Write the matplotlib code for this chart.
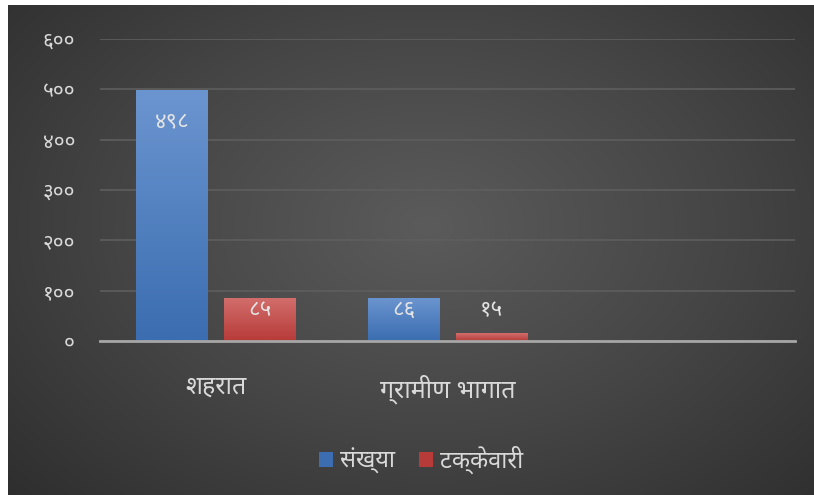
import matplotlib
matplotlib.use("Agg")
import matplotlib.pyplot as plt
import numpy as np
from matplotlib.patches import Patch

# data
categories = ["शहरात", "ग्रामीण भागात", ""]
series_names = ["संख्या", "टक्केवारी"]
sankhya = [498, 86, None]
takkevari = [85, 15, None]
yticks = [0, 100, 200, 300, 400, 500, 600]

DEV_DIGITS = "०१२३४५६७८९"


def to_dev(n):
    return "".join(DEV_DIGITS[int(c)] for c in str(n))


plt.rcParams['font.family'] = ['Noto Sans Devanagari', 'Hind', 'Ek Mukta', 'DejaVu Sans']

fig = plt.figure(figsize=(8.14, 4.95), dpi=100)
fig.patch.set_facecolor("white")

# dark radial background
bg = fig.add_axes([8 / 814, 0, 1 - 8 / 814, 1 - 5 / 495])
yy, xx = np.mgrid[0:1:300j, 0:1:300j]
r = np.sqrt(((xx - 0.52) / 0.75) ** 2 + ((yy - 0.45) / 0.85) ** 2)
r = np.clip(r, 0, 1)
bg.imshow(r, cmap=matplotlib.colors.LinearSegmentedColormap.from_list(
    "bg", ["#5b5b5b", "#454545", "#2c2c2c"]), aspect="auto",
    extent=[0, 1, 0, 1], vmin=0, vmax=1)
bg.axis("off")

ax = fig.add_axes([100 / 814, 1 - 341 / 495, 695 / 814, (341 - 39) / 495])
ax.patch.set_alpha(0)

x = np.arange(len(categories))
w = 0.31
off = 0.19
colors = [("#6b95d0", "#3b6db0"), ("#d26d6b", "#b63b39")]

for i, (vals, (ctop, cbot)) in enumerate(zip([sankhya, takkevari], colors)):
    xs = [xi for xi, v in zip(x, vals) if v is not None]
    vs = [v for v in vals if v is not None]
    pos = np.array(xs) + (-off if i == 0 else off)
    bars = ax.bar(pos, vs, width=w, color=cbot, zorder=3)
    cmap = matplotlib.colors.LinearSegmentedColormap.from_list("g%d" % i, [cbot, ctop])
    for b, v in zip(bars, vs):
        grad = np.linspace(0, 1, 100).reshape(-1, 1)
        im = ax.imshow(grad, cmap=cmap, origin="lower", aspect="auto",
                       extent=[b.get_x(), b.get_x() + b.get_width(), 0, v], zorder=3.5)
        im.set_clip_path(b)
        ly = v - 65 if v - 65 > 60 else 60
        ax.text(b.get_x() + b.get_width() / 2, ly, to_dev(v), ha="center", va="center",
                color="#e4e4e4", fontsize=16, zorder=5)

ax.set_xlim(-0.5, 2.5)
ax.set_ylim(0, 600)
ax.set_yticks(yticks)
ax.set_yticklabels([to_dev(t) for t in yticks], color="#d9d9d9", fontsize=15)
ax.set_xticks(x)
ax.set_xticklabels(categories, color="#d9d9d9", fontsize=18)
ax.tick_params(axis="y", length=0, pad=18)
ax.tick_params(axis="x", length=0, pad=24)
ax.grid(axis="y", color="#5e5e5e", linewidth=1.2, zorder=0)
for s in ["top", "right", "left"]:
    ax.spines[s].set_visible(False)
ax.spines["bottom"].set_color("#a6a6a6")
ax.spines["bottom"].set_linewidth(2)
ax.spines["bottom"].set_zorder(6)

handles = [Patch(facecolor=colors[0][1], edgecolor="none"),
           Patch(facecolor=colors[1][1], edgecolor="none")]
leg = fig.legend(handles, series_names, loc="center", bbox_to_anchor=(421 / 814, 1 - 460 / 495),
                 ncol=2, frameon=False, fontsize=17, handlelength=0.6, handleheight=0.6,
                 handletextpad=0.3, columnspacing=1.0)
for t in leg.get_texts():
    t.set_color("#d9d9d9")

fig.savefig("out.png", dpi=100)
